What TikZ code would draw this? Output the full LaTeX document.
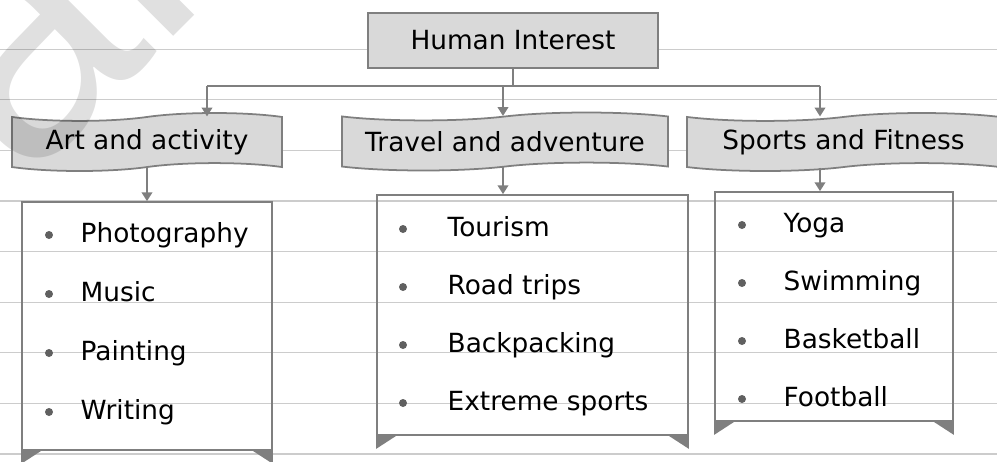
\documentclass[tikz,border=0pt]{standalone}
\usepackage{fontspec}
\setmainfont{DejaVu Sans}
\newfontfamily\markfont{Liberation Sans}
\usetikzlibrary{
    arrows.meta,
    positioning,
    shapes.symbols,
    calc,
}

\definecolor{boxgray}{HTML}{D9D9D9}
\definecolor{edgegray}{HTML}{7F7F7F}
\definecolor{rulegray}{HTML}{CCCCCC}
\definecolor{dotgray}{HTML}{606060}

\begin{document}
\begin{tikzpicture}[
        x=0.02cm, y=-0.02cm,
        >={Triangle[length=5pt,width=6pt]},
        font=\fontsize{15}{18}\selectfont,
        header/.style={
            rectangle, draw=edgegray, line width=1pt, fill=boxgray,
            minimum width=5.8cm, minimum height=1.1cm, inner sep=0pt
        },
        banner/.style={
            tape, draw=edgegray, line width=1pt, fill=boxgray,
            tape bend top=in and out, tape bend bottom=in and out,
            tape bend height=4.5pt, minimum width=#1, minimum height=1.16cm,
            inner sep=0pt
        },
        listbox/.style={
            rectangle, draw=edgegray, line width=1pt,
            minimum width=#1, inner sep=0pt
        },
        foot/.style={fill=edgegray},
        dot/.style={circle, fill=dotgray, inner sep=0pt, minimum size=0.16cm},
        item/.style={inner sep=0pt, text height=12pt, text depth=3pt},
        link/.style={draw=edgegray, line width=1pt},
        arrow/.style={->, draw=edgegray, line width=1pt},
        rule/.style={draw=rulegray, line width=0.6pt},
        watermark/.style={font=\markfont\fontsize{193}{193}\selectfont,
            text=black, text opacity=0.12, inner sep=0pt},
    ]

    \useasboundingbox (0,0) rectangle (997,461);

    % ── Ruled paper ──
    \foreach \k in {0,...,8}
        \draw[rule] (0,{49.2+50.6*\k}) -- (997,{49.2+50.6*\k});

    % ── Header ──
    \node[header] (hi) at (513,40.5) {Human Interest};

    % ── Banners ──
    \node[banner=5.4cm] (art) at (147,142) {Art and activity};
    \node[banner=6.52cm] (travel) at (505,141.5) {Travel and adventure};
    \node[banner=6.26cm] (sports) at (843.5,142) {Sports and Fitness};

    % ── Lists ──
    \node[listbox=5cm, minimum height=4.96cm] (artlist) at (147,326) {};
    \node[listbox=6.22cm, minimum height=4.8cm] (travellist) at (532.5,315) {};
    \node[listbox=4.76cm, minimum height=4.58cm] (sportslist) at (834,306.5) {};

    \foreach \l in {artlist, travellist, sportslist} {
        \fill[foot] (\l.south west) -- ++(20,0) -- ++(-20,13) -- cycle;
        \fill[foot] (\l.south east) -- ++(-20,0) -- ++(20,13) -- cycle;
    }

    % ── Connectors ──
    \coordinate (busL) at (207,86);
    \coordinate (busM) at (503,86);
    \coordinate (busR) at (820,86);
    \draw[link] (hi.south) -- (hi.south |- busM);
    \draw[link] (busL) -- (busR);
    \draw[arrow] (busL) -- (busL |- art.north);
    \draw[arrow] (busM) -- (busM |- travel.north);
    \draw[arrow] (busR) -- (busR |- sports.north);

    \draw[arrow] (art.south) -- (art.south |- artlist.north);
    \draw[arrow] (busM |- travel.south) -- (busM |- travellist.north);
    \draw[arrow] (busR |- sports.south) -- (busR |- sportslist.north);

    % ── Items ──
    \foreach \txt [count=\i] in {Photography, Music, Painting, Writing} {
        \node[dot] (artdot\i) at (49,{235+59*(\i-1)}) {};
        \node[item, right=0.54cm of artdot\i] (artitem\i) {\txt};
    }
    \foreach \txt [count=\i] in {Tourism, Road trips, Backpacking, Extreme sports} {
        \node[dot] (traveldot\i) at (403,{229+58*(\i-1)}) {};
        \node[item, right=0.8cm of traveldot\i] (travelitem\i) {\txt};
    }
    \foreach \txt [count=\i] in {Yoga, Swimming, Basketball, Football} {
        \node[dot] (sportsdot\i) at (742,{225+58*(\i-1)}) {};
        \node[item, right=0.74cm of sportsdot\i] (sportsitem\i) {\txt};
    }

    % ── Watermark ──
    \node[watermark, rotate=45, anchor=base west] (wm) at (24,186) {al};

\end{tikzpicture}
\end{document}
